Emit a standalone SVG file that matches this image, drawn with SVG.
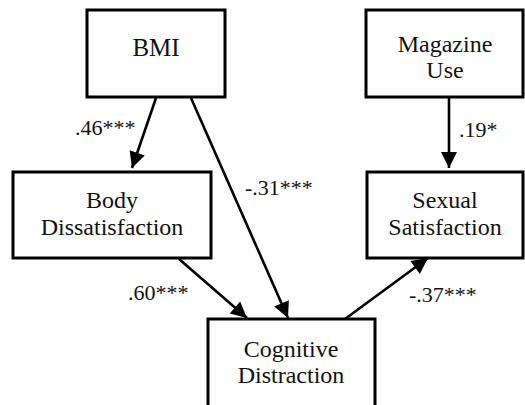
<svg xmlns="http://www.w3.org/2000/svg" width="525" height="405" viewBox="0 0 525 405">
<style>
.box{fill:#fff;stroke:#000;stroke-width:3}
.t{font-size:24px;text-anchor:middle;fill:#111}
.lbl{font-size:22px;fill:#111}
.edge{stroke:#000;stroke-width:2.6;fill:none;marker-end:url(#ah)}
</style>
<defs>
<marker id="ah" markerUnits="userSpaceOnUse" markerWidth="20" markerHeight="20" viewBox="0 0 20 20" refX="18" refY="10" orient="auto">
<path d="M2,2 L18,10 L2,18 Z" fill="#000"/>
</marker>
</defs>
<rect width="525" height="405" fill="#fff"/>
<g font-family="Liberation Serif, Times New Roman, serif">
<g id="connectors">
<line class="edge" x1="156" y1="98" x2="132" y2="168"/>
<line class="edge" x1="191" y1="98" x2="288" y2="318"/>
<line class="edge" x1="449" y1="98" x2="449" y2="168"/>
<line class="edge" x1="179" y1="259" x2="247" y2="318"/>
<line class="edge" x1="345" y1="319" x2="428" y2="258"/>
<text class="lbl" x="75" y="135">.46***</text>
<text class="lbl" x="245" y="195">-.31***</text>
<text class="lbl" x="459" y="137">.19*</text>
<text class="lbl" x="128" y="300">.60***</text>
<text class="lbl" x="409" y="302">-.37***</text>
</g>
<g id="bmi">
<rect class="box" x="87" y="10" width="138" height="87"/>
<text class="t" x="156" y="56" style="font-size:25px">BMI</text>
</g>
<g id="magazine">
<rect class="box" x="366" y="10" width="157" height="87"/>
<text class="t" x="445" y="52">Magazine</text>
<text class="t" x="445" y="78">Use</text>
</g>
<g id="body">
<rect class="box" x="13" y="172" width="198" height="86"/>
<text class="t" x="112" y="208">Body</text>
<text class="t" x="112" y="235">Dissatisfaction</text>
</g>
<g id="sexual">
<rect class="box" x="367" y="172" width="156" height="86"/>
<text class="t" x="445" y="208">Sexual</text>
<text class="t" x="445" y="235">Satisfaction</text>
</g>
<g id="cognitive">
<rect class="box" x="208" y="319" width="167" height="100"/>
<text class="t" x="291" y="357">Cognitive</text>
<text class="t" x="291" y="383">Distraction</text>
</g>
</g>
</svg>
